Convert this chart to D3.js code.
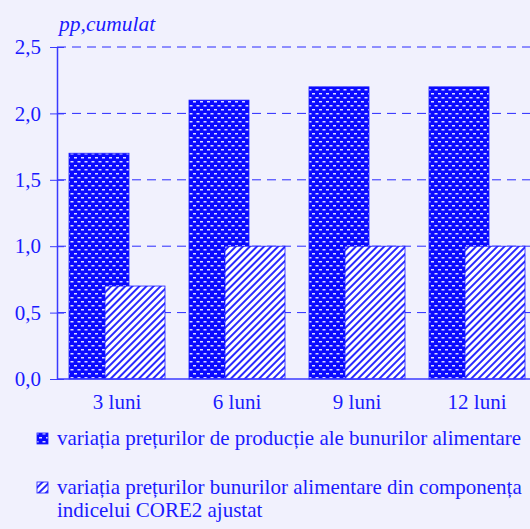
<!DOCTYPE html>
<html>
<head>
<meta charset="utf-8">
<script src="https://cdn.jsdelivr.net/npm/d3@7"></script>
<style>
  body { margin: 0; background: #f1f1fd; }
  svg { display: block; }
  text { font-family: "Liberation Serif", "DejaVu Serif", serif; fill: #1a1aff; }
</style>
</head>
<body>
<div id="chart"></div>
<script>
var categories = ["3 luni", "6 luni", "9 luni", "12 luni"];
var productionPrices = [1.7, 2.1, 2.2, 2.2];
var core2Prices = [0.7, 1.0, 1.0, 1.0];
var yTicks = [0, 0.5, 1, 1.5, 2, 2.5];
var legendLabels = [
  ["variația prețurilor de producție ale bunurilor alimentare"],
  ["variația prețurilor bunurilor alimentare din componența", "indicelui CORE2 ajustat"]
];

var width = 530, height = 529;
var margin = {top: 47, left: 57, bottom: 150};
var blue = "#1a1aff";
var serif = "'Liberation Serif', 'DejaVu Serif', serif";

var svg = d3.select("#chart").append("svg")
  .attr("width", width)
  .attr("height", height);

svg.append("rect").attr("width", width).attr("height", height).attr("fill", "#f1f1fd");

// patterns
var defs = svg.append("defs");
var dots = defs.append("pattern")
  .attr("id", "dots")
  .attr("patternUnits", "userSpaceOnUse")
  .attr("width", 7).attr("height", 8);
dots.append("rect").attr("width", 7).attr("height", 8).attr("fill", "#0a0aff");
dots.append("rect").attr("x", 0.5).attr("y", 1).attr("width", 3).attr("height", 1.5).attr("fill", "#dcdcff");
dots.append("rect").attr("x", 4).attr("y", 5).attr("width", 3).attr("height", 1.5).attr("fill", "#dcdcff");

var hatch = defs.append("pattern")
  .attr("id", "hatch")
  .attr("patternUnits", "userSpaceOnUse")
  .attr("width", 5).attr("height", 5)
  .attr("patternTransform", "rotate(45)");
hatch.append("rect").attr("width", 5).attr("height", 5).attr("fill", "#ffffff");
hatch.append("rect").attr("width", 2).attr("height", 5).attr("fill", "#2a2aff");

var x = d3.scaleBand()
  .domain(categories)
  .range([margin.left, margin.left + 480]);

var y = d3.scaleLinear()
  .domain([0, 2.5])
  .range([height - margin.bottom, margin.top]);

var fmt = function(d) { return d3.format(".1f")(d).replace(".", ","); };

// gridlines
svg.append("g")
  .selectAll("line")
  .data(yTicks.filter(function(d) { return d > 0; }))
  .enter().append("line")
  .attr("x1", margin.left)
  .attr("x2", width)
  .attr("y1", function(d) { return y(d); })
  .attr("y2", function(d) { return y(d); })
  .attr("stroke", "#2a2aff")
  .attr("stroke-width", 1)
  .attr("stroke-dasharray", "9,6");

var bw = x.bandwidth();

// bars
svg.append("g").selectAll("rect")
  .data(categories)
  .enter().append("rect")
  .attr("x", function(d) { return x(d) + bw * 0.1; })
  .attr("width", bw * 0.5)
  .attr("y", function(d, i) { return y(productionPrices[i]); })
  .attr("height", function(d, i) { return y(0) - y(productionPrices[i]); })
  .attr("fill", "url(#dots)")
  .attr("stroke", blue)
  .attr("stroke-width", 0.8);

svg.append("g").selectAll("rect")
  .data(categories)
  .enter().append("rect")
  .attr("x", function(d) { return x(d) + bw * 0.4; })
  .attr("width", bw * 0.5)
  .attr("y", function(d, i) { return y(core2Prices[i]); })
  .attr("height", function(d, i) { return y(0) - y(core2Prices[i]); })
  .attr("fill", "url(#hatch)")
  .attr("stroke", blue)
  .attr("stroke-width", 0.8);

// y axis
var yAxis = d3.axisLeft(y)
  .tickValues(yTicks)
  .tickFormat(fmt)
  .tickSizeInner(7)
  .tickSizeOuter(0)
  .tickPadding(9);

var yg = svg.append("g")
  .attr("transform", "translate(" + margin.left + ",0)")
  .call(yAxis)
  .attr("font-family", serif);
yg.select(".domain").attr("stroke", "#3a3aff").attr("stroke-width", 1.5);
yg.selectAll(".tick line").attr("stroke", "#3a3aff").attr("x2", 7).attr("x1", -7);
yg.selectAll(".tick text")
  .style("font-size", "21px")
  .attr("fill", blue);

// x axis
var xAxis = d3.axisBottom(x).tickSize(0).tickPadding(15);
var xg = svg.append("g")
  .attr("transform", "translate(0," + y(0) + ")")
  .call(xAxis)
  .attr("font-family", serif);
xg.select(".domain").attr("stroke", "#3a3aff").attr("stroke-width", 1.5)
  .attr("d", "M" + margin.left + ",0H" + width);
xg.selectAll(".tick text")
  .style("font-size", "21px")
  .attr("fill", blue);

// y title
svg.append("text")
  .attr("x", 59)
  .attr("y", 31)
  .style("font-size", "21.5px")
  .style("font-style", "italic")
  .text("pp,cumulat");

// legend
var legendY = [445, 494];
var fills = ["url(#dots)", "url(#hatch)"];
legendLabels.forEach(function(lines, i) {
  svg.append("rect")
    .attr("x", 37).attr("y", legendY[i] - 12)
    .attr("width", 11).attr("height", 11)
    .attr("fill", fills[i])
    .attr("stroke", blue)
    .attr("stroke-width", 0.8);
  var t = svg.append("text")
    .attr("x", 57)
    .attr("y", legendY[i])
    .style("font-size", "21px");
  lines.forEach(function(line, j) {
    t.append("tspan").attr("x", 57).attr("dy", j === 0 ? 0 : 23).text(line);
  });
});
</script>
</body>
</html>
